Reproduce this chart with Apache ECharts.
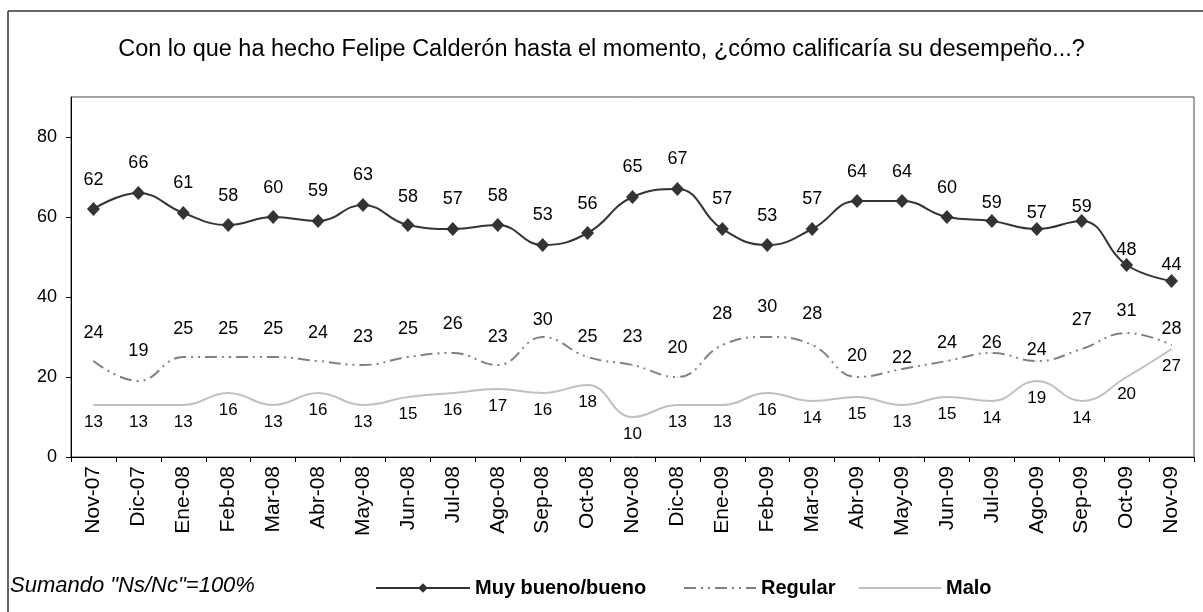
<!DOCTYPE html>
<html>
<head>
<meta charset="utf-8">
<script src="https://cdn.jsdelivr.net/npm/echarts@6/dist/echarts.min.js"></script>
<style>
html,body{margin:0;padding:0;background:#fff;overflow:hidden;}
#chart{width:1203px;height:612px;}
</style>
</head>
<body>
<div id="chart"></div>
<script>
const categories = ['Nov-07','Dic-07','Ene-08','Feb-08','Mar-08','Abr-08','May-08','Jun-08','Jul-08','Ago-08','Sep-08','Oct-08','Nov-08','Dic-08','Ene-09','Feb-09','Mar-09','Abr-09','May-09','Jun-09','Jul-09','Ago-09','Sep-09','Oct-09','Nov-09'];
const muyBueno = [62,66,61,58,60,59,63,58,57,58,53,56,65,67,57,53,57,64,64,60,59,57,59,48,44];
const regular  = [24,19,25,25,25,24,23,25,26,23,30,25,23,20,28,30,28,20,22,24,26,24,27,31,28];
const malo     = [13,13,13,16,13,16,13,15,16,17,16,18,10,13,13,16,14,15,13,15,14,19,14,20,27];
const seriesNames = ['Muy bueno/bueno','Regular','Malo'];
const titleText = 'Con lo que ha hecho Felipe Calderón hasta el momento, ¿cómo calificaría su desempeño...?';
const noteText = 'Sumando "Ns/Nc"=100%';

// label placement (style only, pixels)
const muyRise = [29,30,30,29,29,30,30,28,30,29,30,29,30,30,30,29,30,29,29,29,18,16,14,15,16];
const regRise = [28,30,28,28,28,28,28,28,29,28,17,20,28,29,31,30,31,21,11,18,10,11,29,22,16];
const maloDrop = 17;

const FONT = "'Liberation Sans', Arial, sans-serif";

function withOffsets(values, offs) {
  return values.map((v, i) => ({ value: v, label: { offset: [0, offs(i)] } }));
}

const legendText = { fontFamily: FONT, fontSize: 20, fontWeight: 'bold', color: '#000' };

const chart = echarts.init(document.getElementById('chart'), null, { renderer: 'canvas' });
chart.setOption({
  animation: false,
  backgroundColor: '#fff',
  textStyle: { fontFamily: FONT },
  title: {
    text: titleText,
    left: 'center',
    top: 33,
    textStyle: { fontFamily: FONT, fontSize: 23.5, fontWeight: 'normal', color: '#000' }
  },
  graphic: [
    { type: 'line', shape: { x1: 8, y1: 11, x2: 1203, y2: 11 },
      style: { stroke: '#333', lineWidth: 1.5 }, silent: true },
    { type: 'line', shape: { x1: 8, y1: 11, x2: 8, y2: 612 },
      style: { stroke: '#333', lineWidth: 1.5 }, silent: true },
    { type: 'text', left: 10, top: 575,
      style: { text: noteText, font: "italic 22px 'Liberation Sans', Arial, sans-serif", fill: '#000' } }
  ],
  legend: [
    { data: [seriesNames[0]], left: 370, top: 573, itemWidth: 94, itemHeight: 12,
      textStyle: legendText },
    { data: [seriesNames[1]], left: 678, top: 573, itemWidth: 72, itemHeight: 12,
      itemStyle: { opacity: 0 }, textStyle: legendText },
    { data: [seriesNames[2]], left: 853, top: 573, itemWidth: 82, itemHeight: 12,
      itemStyle: { opacity: 0 }, textStyle: legendText }
  ],
  grid: { left: 71, right: 9, top: 97, bottom: 155, show: true, borderColor: '#444', borderWidth: 1, backgroundColor: '#fff' },
  xAxis: {
    type: 'category',
    data: categories,
    boundaryGap: true,
    axisLine: { lineStyle: { color: '#000', width: 1 } },
    axisTick: { show: true, interval: 0, length: 5, lineStyle: { color: '#000' } },
    axisLabel: { interval: 0, rotate: 90, margin: 9, fontFamily: FONT, fontSize: 21, color: '#000' },
    splitLine: { show: false }
  },
  yAxis: {
    type: 'value',
    min: 0, max: 90, interval: 20,
    axisLine: { show: true, lineStyle: { color: '#000', width: 1 } },
    axisTick: { show: true, length: 5, lineStyle: { color: '#000' } },
    axisLabel: { showMaxLabel: false, margin: 14, fontFamily: FONT, fontSize: 18, color: '#000' },
    splitLine: { show: false }
  },
  series: [
    {
      name: seriesNames[0], type: 'line', smooth: 0.45,
      data: withOffsets(muyBueno, i => -muyRise[i]),
      symbol: 'diamond', symbolSize: [13, 14],
      itemStyle: { color: '#333' },
      lineStyle: { color: '#333', width: 2 },
      label: { show: true, position: 'inside', color: '#000', fontFamily: FONT, fontSize: 18 },
      z: 5
    },
    {
      name: seriesNames[1], type: 'line', smooth: 0.45,
      data: withOffsets(regular, i => -regRise[i]),
      symbol: 'circle', symbolSize: 1,
      itemStyle: { color: '#808080' },
      lineStyle: { color: '#808080', width: 2, type: [12, 5, 2, 5, 2, 5] },
      label: { show: true, position: 'inside', color: '#000', fontFamily: FONT, fontSize: 18 },
      z: 4
    },
    {
      name: seriesNames[2], type: 'line', smooth: 0.45,
      data: withOffsets(malo, i => maloDrop),
      symbol: 'circle', symbolSize: 1,
      itemStyle: { color: '#c0c0c0' },
      lineStyle: { color: '#c0c0c0', width: 2 },
      label: { show: true, position: 'inside', color: '#000', fontFamily: FONT, fontSize: 17 },
      z: 3
    }
  ]
});
</script>
</body>
</html>
